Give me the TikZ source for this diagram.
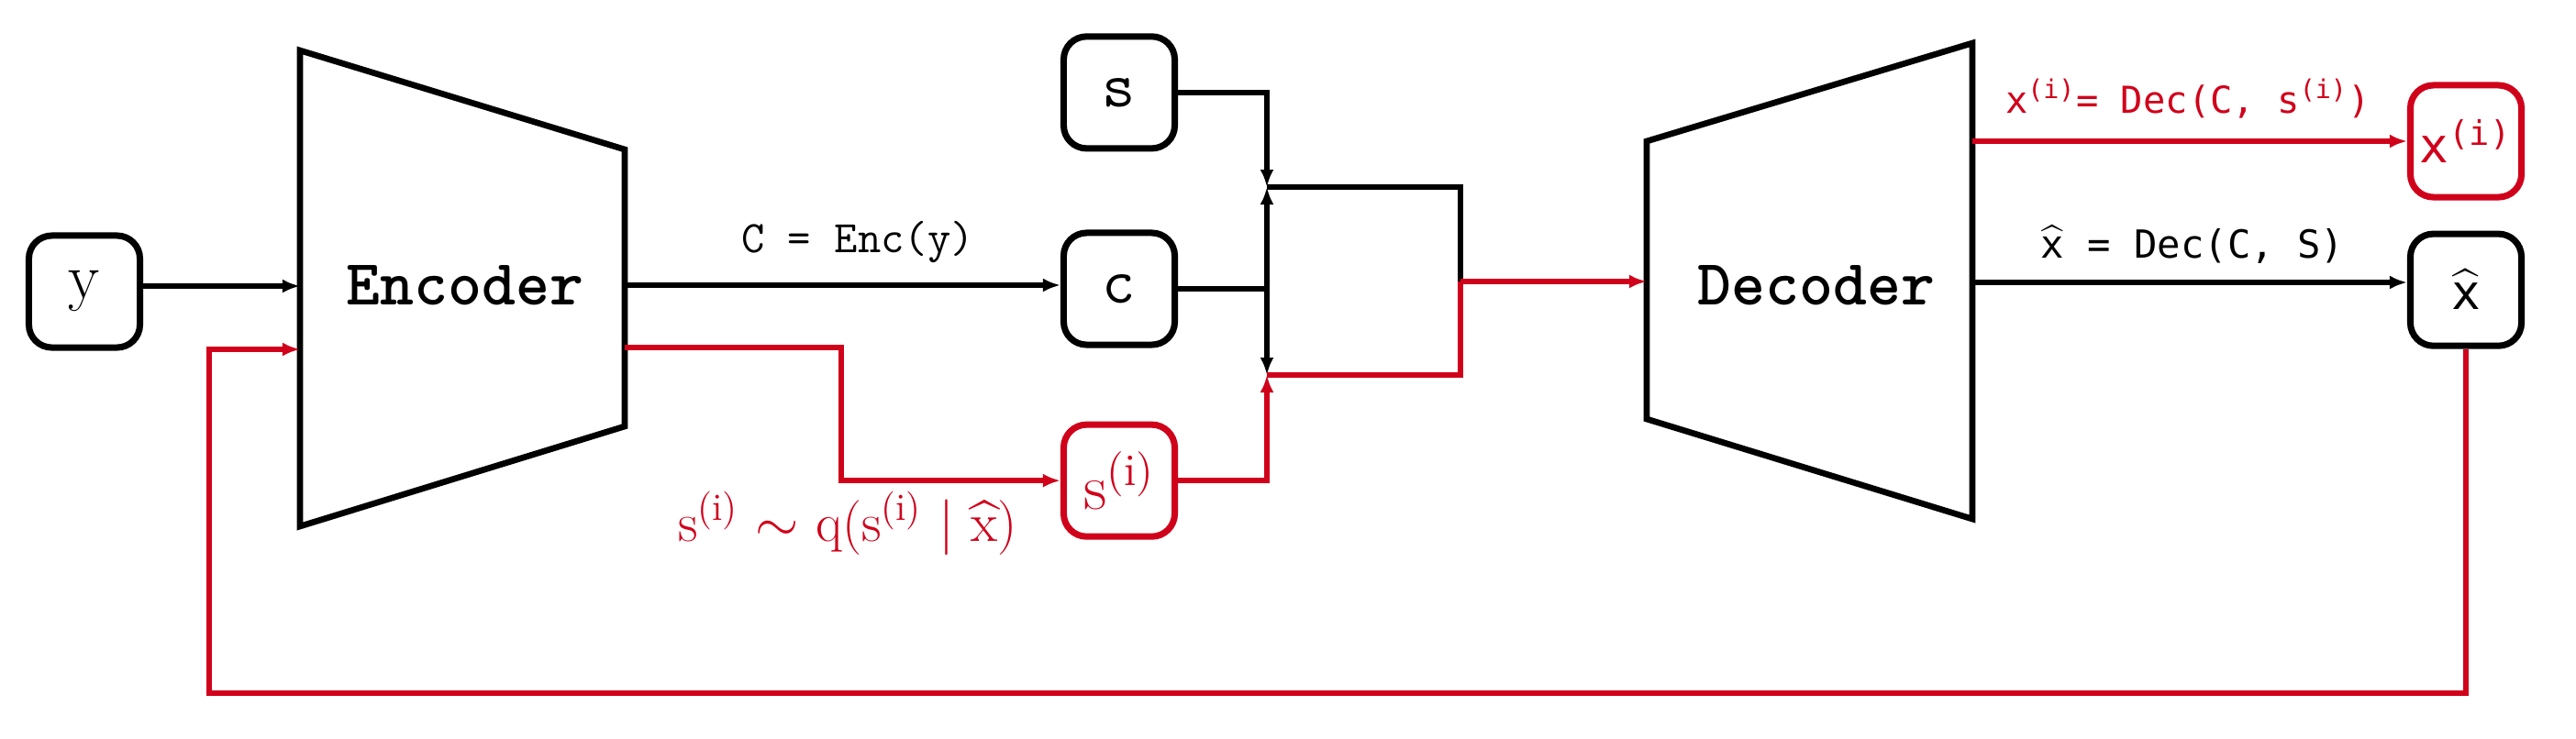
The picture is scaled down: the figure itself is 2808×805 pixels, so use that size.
\documentclass[tikz,border=0pt]{standalone}
\usepackage{amsmath}
\usepackage{fontspec}
\usepackage{xcolor}
\usepackage{tikz}
\usetikzlibrary{arrows.meta, positioning, calc}
\newfontfamily\decfont{DejaVu Sans Mono}
\definecolor{sampred}{RGB}{208,2,27}

\begin{document}
\begin{tikzpicture}[
    x=0.01cm, y=-0.01cm,
    var/.style={rectangle, rounded corners=0.25cm, draw=black, line width=2pt, minimum width=1.21cm, minimum height=1.22cm, inner sep=0pt, align=center, font=\ttfamily\fontsize{20}{24}\selectfont},
    sampvar/.style={var, draw=sampred, text=sampred},
    net/.style={draw, line width=1.9pt, line join=miter},
    conn/.style={line width=1.7pt},
    arrow/.style={conn, -{Latex[length=0.19cm, width=0.15cm]}},
    lbl/.style={anchor=base, inner sep=0pt}
]
\useasboundingbox (0,0) rectangle (2808,805);

% Encoder
\draw[net] (327,55) -- (681,163) -- (681,465) -- (327,574) -- cycle;
\node[font=\ttfamily\bfseries\fontsize{20}{24}\selectfont] (enc) at (507,311) {Encoder};
\coordinate (encin) at (327,312);
\coordinate (encfb) at (327,381);
\coordinate (encout) at (681,311);
\coordinate (encsmp) at (681,379);

% Decoder
\draw[net] (1795,154) -- (2150,47) -- (2150,566) -- (1795,457) -- cycle;
\node[font=\ttfamily\bfseries\fontsize{20}{24}\selectfont] (dec) at (1980,311) {Decoder};
\coordinate (decin) at (1795,307);
\coordinate (decxi) at (2150,154);
\coordinate (decxh) at (2150,308);

% Variables
\node[var, font=\rmfamily\fontsize{20}{24}\selectfont] (y) at (92,318) {y};
\node[var] (c) at (1220,315) {c};
\node[var, above=0.85cm of c] (s) {s};
\node[sampvar, below=0.8cm of c, font=\rmfamily\fontsize{20}{24}\selectfont] (si) {s\textsuperscript{(i)}};
\node[sampvar, font=\decfont\fontsize{15}{18}\selectfont] (xi) at (2688,154) {x\textsuperscript{(i)}};
\node[var, below=0.33cm of xi, font=\decfont\fontsize{15}{18}\selectfont] (xhat) {$\widehat{\text{x}}$};

% Junction
\coordinate (jtop) at (1381,204);
\coordinate (jbot) at (1381,409);
\coordinate (jout) at (1592,307);
\coordinate (smpbend) at (917,379);
\coordinate (loop) at (228,756);

% Arrows
\draw[arrow] (y.east |- encin) -- (encin);
\draw[arrow] (encout) -- (encout -| c.west);
\draw[arrow, sampred] (encsmp) -- (smpbend) |- (si.west);
\draw[arrow] (s.east) -| (jtop);
\draw[conn] (c.east) -- (c.east -| jtop) coordinate (jmid);
\draw[arrow] (jmid) -- (jtop);
\draw[arrow] (jmid) -- (jbot);
\draw[arrow, sampred] (si.east) -| (jbot);
\draw[conn] (jtop) -| (jout);
\draw[conn, sampred] (jbot) -| (jout);
\draw[arrow, sampred] (jout) -- (decin);
\draw[arrow, sampred] (decxi) -- (xi.west);
\draw[arrow] (decxh) -- (decxh -| xhat.west);
\draw[arrow, sampred] (xhat.south) |- (loop) |- (encfb);

% Labels
\node[lbl, font=\ttfamily\fontsize{14}{17}\selectfont] (enclbl) at (935,275) {C = Enc(y)};
\node[lbl, text=sampred, font=\rmfamily\fontsize{17}{20}\selectfont] (smplbl) at (924,590) {s\textsuperscript{(i)} $\sim$ q(s\textsuperscript{(i)} $|$ $\widehat{\text{x}}$)};
\node[lbl, text=sampred, font=\decfont\fontsize{11.5}{14}\selectfont] (xilbl) at (2385,123) {x\textsuperscript{(i)}= Dec(C, s\textsuperscript{(i)})};
\node[lbl, font=\decfont\fontsize{12}{14}\selectfont] (xhlbl) at (2390,281) {$\widehat{\text{x}}$ = Dec(C, S)};

\end{tikzpicture}
\end{document}
